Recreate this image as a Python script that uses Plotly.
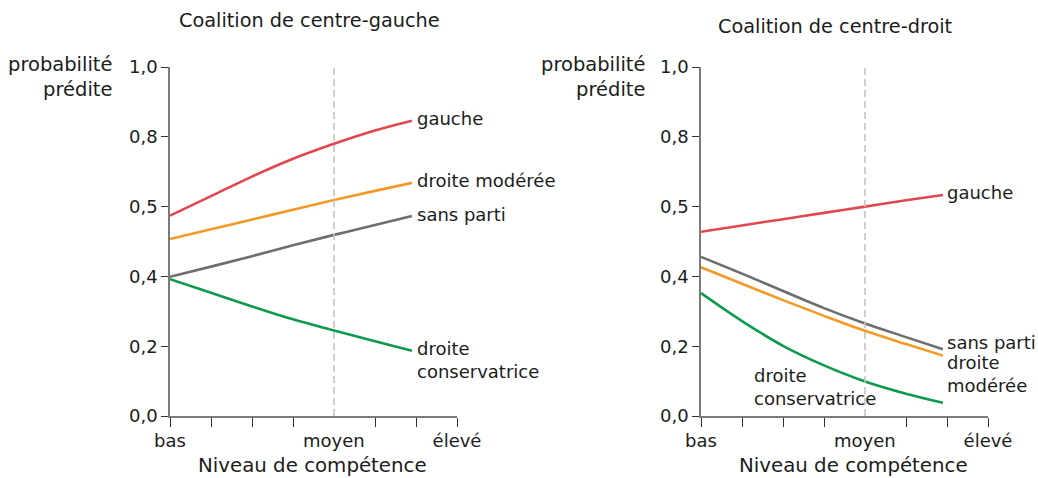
import plotly.graph_objects as go

# Skill level positions (0 = bas, 4 = moyen, 7 = élevé)
niveau = [0, 1, 2, 3, 4, 5, 5.9]

# Coalition de centre-gauche: predicted probability by party
cg_gauche = [0.574, 0.630, 0.686, 0.737, 0.780, 0.818, 0.846]
cg_droite_moderee = [0.507, 0.535, 0.563, 0.591, 0.619, 0.645, 0.668]
cg_sans_parti = [0.399, 0.428, 0.458, 0.489, 0.519, 0.547, 0.573]
cg_droite_conservatrice = [0.392, 0.353, 0.314, 0.277, 0.245, 0.214, 0.187]

# Coalition de centre-droit: predicted probability by party
cd_gauche = [0.528, 0.546, 0.564, 0.582, 0.600, 0.618, 0.633]
cd_sans_parti = [0.456, 0.408, 0.358, 0.309, 0.265, 0.226, 0.191]
cd_droite_moderee = [0.426, 0.379, 0.332, 0.287, 0.244, 0.206, 0.173]
cd_droite_conservatrice = [0.352, 0.272, 0.201, 0.145, 0.099, 0.064, 0.038]

y_tick_vals = [0, 0.2, 0.4, 0.6, 0.8, 1.0]
y_tick_text = ["0,0", "0,2", "0,4", "0,5", "0,8", "1,0"]
x_minor_ticks = [0, 1, 2, 3, 5, 6, 7]

RED = "#e0474f"
ORANGE = "#f39a26"
GREY = "#6e6e6e"
GREEN = "#0e9a4c"
TEXT = "#1c1c1c"
FONT = "DejaVu Sans"

W, H = 1038, 478

fig = go.Figure()

panels = [
    ("x", "y", [(cg_gauche, RED), (cg_droite_moderee, ORANGE),
                (cg_sans_parti, GREY), (cg_droite_conservatrice, GREEN)]),
    ("x2", "y2", [(cd_gauche, RED), (cd_sans_parti, GREY),
                  (cd_droite_moderee, ORANGE), (cd_droite_conservatrice, GREEN)]),
]

for xa, ya, series in panels:
    for vals, col in series:
        fig.add_trace(go.Scatter(
            x=niveau, y=vals, xaxis=xa, yaxis=ya, mode="lines",
            line=dict(color=col, width=2.6, shape="spline", smoothing=1.0),
            showlegend=False, hoverinfo="skip",
        ))

tick_font = dict(family=FONT, size=18, color=TEXT)


def xaxis_style(domain, anchor):
    return dict(
        domain=domain, anchor=anchor, range=[0, 7], automargin=False,
        showgrid=False, zeroline=False,
        showline=True, linecolor="#7a7a7a", linewidth=1.6,
        tickmode="array", tickvals=[0, 7], ticktext=["bas", "élevé"],
        ticks="outside", ticklen=8, tickcolor="rgba(0,0,0,0)",
        tickfont=tick_font,
        minor=dict(tickmode="array", tickvals=x_minor_ticks, ticks="outside",
                   ticklen=9, tickwidth=1.2, tickcolor="#333333"),
    )


def yaxis_style(domain, anchor):
    return dict(
        domain=domain, anchor=anchor, range=[0, 1], automargin=False,
        showgrid=False, zeroline=False,
        showline=True, linecolor="#7a7a7a", linewidth=1.6,
        tickmode="array", tickvals=y_tick_vals, ticktext=y_tick_text,
        ticks="outside", ticklen=7, tickwidth=1.2, tickcolor="#333333",
        tickfont=tick_font,
    )


y_dom = [(H - 416) / H, (H - 67) / H]
fig.update_layout(
    width=W, height=H, autosize=False, showlegend=False,
    margin=dict(l=0, r=0, t=0, b=0, pad=0, autoexpand=False),
    paper_bgcolor="white", plot_bgcolor="white",
    xaxis=xaxis_style([170 / W, 457 / W], "y"),
    yaxis=yaxis_style(y_dom, "x"),
    xaxis2=xaxis_style([701 / W, 988 / W], "y2"),
    yaxis2=yaxis_style(y_dom, "x2"),
)

# "moyen" reference line and its label on both panels
for xr, yr in [("x", "y"), ("x2", "y2")]:
    fig.add_shape(type="line", xref=xr, yref=yr, x0=4, x1=4, y0=0, y1=1,
                  line=dict(color="#c4c4c4", width=1.6, dash="7px,4px"))
    fig.add_annotation(xref=xr, yref=yr, x=4, y=0, text="moyen",
                       showarrow=False, yanchor="top", yshift=-12,
                       font=tick_font)

label_font = dict(family=FONT, size=18, color=TEXT)

# series labels, left panel
for txt, yv in [("gauche", 0.851), ("droite modérée", 0.676),
                ("sans parti", 0.576), ("droite<br>conservatrice", 0.160)]:
    fig.add_annotation(xref="x", yref="y", x=6.0, y=yv, text=txt,
                       showarrow=False, xanchor="left", yanchor="middle",
                       align="left", font=label_font, borderpad=0)

# series labels, right panel
for txt, xv, yv in [("gauche", 5.97, 0.639), ("sans parti", 5.97, 0.212),
                    ("droite<br>modérée", 5.97, 0.120),
                    ("droite<br>conservatrice", 1.27, 0.083)]:
    fig.add_annotation(xref="x2", yref="y2", x=xv, y=yv, text=txt,
                       showarrow=False, xanchor="left", yanchor="middle",
                       align="left", font=label_font, borderpad=0)

# panel titles
for txt, px, py in [("Coalition de centre-gauche", 309, 20),
                    ("Coalition de centre-droit", 835, 27)]:
    fig.add_annotation(xref="paper", yref="paper", x=px / W, y=1 - py / H,
                       text=txt, showarrow=False, xanchor="center",
                       yanchor="middle",
                       font=dict(family=FONT, size=19.3, color=TEXT))

# x-axis titles
for px in (312, 853):
    fig.add_annotation(xref="paper", yref="paper", x=px / W, y=0,
                       text="Niveau de compétence", showarrow=False,
                       xanchor="center", yanchor="bottom", borderpad=0,
                       font=dict(family=FONT, size=19.8, color=TEXT))

# y-axis titles
for px in (115, 648):
    fig.add_annotation(xref="paper", yref="paper", x=px / W, y=1 - 77 / H,
                       text="probabilité<br>prédite", showarrow=False,
                       xanchor="right", yanchor="middle", align="right",
                       font=dict(family=FONT, size=19.5, color=TEXT))

fig.write_html("out.html")
